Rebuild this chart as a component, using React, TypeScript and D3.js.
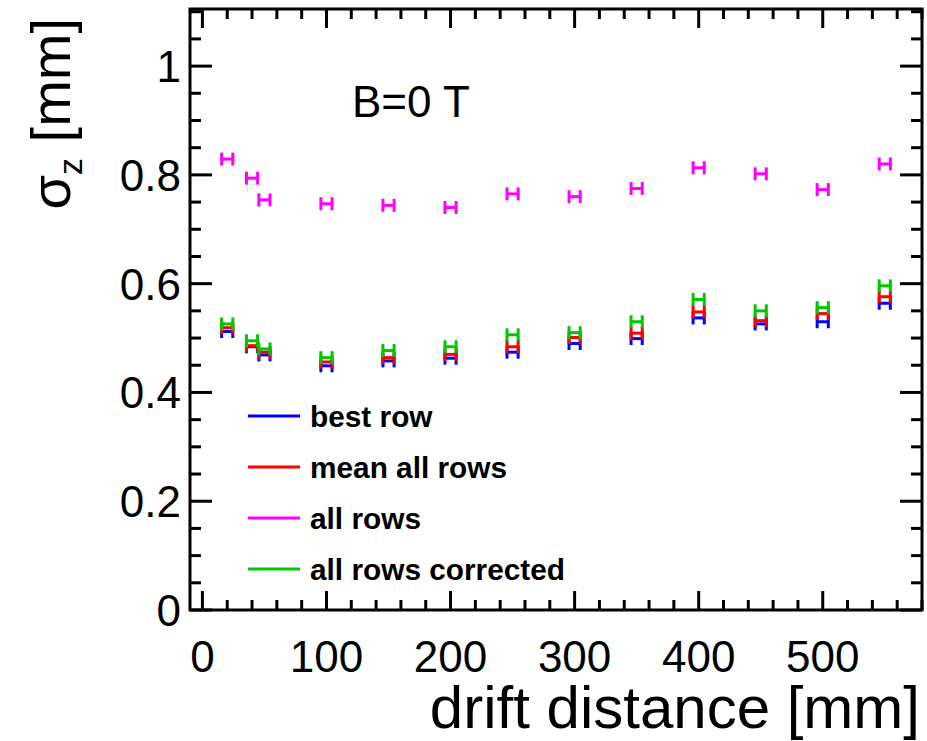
import React from "react";
import * as d3 from "d3";

const driftX = [20, 40, 50, 100, 150, 200, 250, 300, 350, 400, 450, 500, 550];
const xErr = [4.5, 4.5, 4.5, 4.5, 4.5, 4.5, 4.5, 4.5, 4.5, 4.5, 4.5, 4.5, 4.5];
const bestRow = [0.512, 0.484, 0.469, 0.449, 0.458, 0.463, 0.474, 0.490, 0.499, 0.537, 0.526, 0.530, 0.564];
const meanAllRows = [0.519, 0.486, 0.474, 0.456, 0.464, 0.470, 0.484, 0.501, 0.509, 0.548, 0.532, 0.545, 0.576];
const allRows = [0.829, 0.794, 0.754, 0.747, 0.744, 0.740, 0.765, 0.760, 0.775, 0.813, 0.802, 0.773, 0.820];
const allRowsCorrected = [0.526, 0.495, 0.480, 0.464, 0.477, 0.484, 0.506, 0.510, 0.530, 0.571, 0.550, 0.556, 0.596];

const xTickLabels = [0, 100, 200, 300, 400, 500];
const yTickLabels = [0, 0.2, 0.4, 0.6, 0.8, 1];

const seriesNames = ["best row", "mean all rows", "all rows", "all rows corrected"];
const seriesColors = ["#0000ff", "#ff0000", "#ff00ff", "#00c800"];
const seriesValues = [bestRow, meanAllRows, allRows, allRowsCorrected];

const W = 927;
const H = 741;
const L = 190, R = 922, T = 9, B = 610;

export default function App() {
  const x = d3.scaleLinear().domain([-10, 580]).range([L, R]);
  const y = d3.scaleLinear().domain([0, 1.105]).range([B, T]);

  const xMinor = d3.range(0, 581, 20);
  const yMinor = d3.range(0, 1.101, 0.05);
  const font = "'Liberation Sans', Arial, Helvetica, sans-serif";
  const capH = 6.5;

  return (
    <svg width={W} height={H} style={{ position: "absolute", left: 0, top: 0, background: "#fff" }} fontFamily={font}>
      <rect x={0} y={0} width={W} height={H} fill="#fff" />
      {/* ticks */}
      <g stroke="#000" strokeWidth={3}>
        {xMinor.map((v) => {
          const major = v % 100 === 0;
          const len = major ? 19 : 10;
          return (
            <g key={"xt" + v}>
              <line x1={x(v)} x2={x(v)} y1={B} y2={B - len} />
              <line x1={x(v)} x2={x(v)} y1={T} y2={T + len} />
            </g>
          );
        })}
        {yMinor.map((v, i) => {
          const major = i % 4 === 0;
          const len = major ? 22 : 11;
          return (
            <g key={"yt" + i}>
              <line x1={L} x2={L + len} y1={y(v)} y2={y(v)} />
              <line x1={R} x2={R - len} y1={y(v)} y2={y(v)} />
            </g>
          );
        })}
      </g>
      {/* frame */}
      <rect x={L} y={T} width={R - L} height={B - T} fill="none" stroke="#000" strokeWidth={3} />

      {/* tick labels */}
      {xTickLabels.map((v) => (
        <text key={"xl" + v} x={x(v)} y={672} fontSize={44} textAnchor="middle" fill="#000">
          {v}
        </text>
      ))}
      {yTickLabels.map((v) => (
        <text key={"yl" + v} x={181} y={y(v) + 16} fontSize={44} textAnchor="end" fill="#000">
          {v === 0 ? "0" : v === 1 ? "1" : v.toFixed(1)}
        </text>
      ))}

      {/* axis titles */}
      <text x={920} y={728} fontSize={60} textAnchor="end" fill="#000">
        drift distance [mm]
      </text>
      <text transform="translate(70,18) rotate(-90)" fontSize={56} textAnchor="end" fill="#000">
        <tspan>σ</tspan>
        <tspan fontSize={34} dy={12}>z</tspan>
        <tspan dy={-12}> [mm]</tspan>
      </text>

      <text x={352} y={117} fontSize={44} fill="#000">
        B=0 T
      </text>

      {/* data */}
      {[0, 1, 2, 3].map((s) => (
        <g key={"s" + s} stroke={seriesColors[s]} strokeWidth={3} fill="none">
          {driftX.map((xv, i) => {
            const cy = y(seriesValues[s][i]);
            const x0 = x(xv - xErr[i]);
            const x1 = x(xv + xErr[i]);
            return (
              <g key={i}>
                <line x1={x0} x2={x1} y1={cy} y2={cy} />
                <line x1={x0} x2={x0} y1={cy - capH} y2={cy + capH} />
                <line x1={x1} x2={x1} y1={cy - capH} y2={cy + capH} />
              </g>
            );
          })}
        </g>
      ))}

      {/* legend */}
      {seriesNames.map((name, i) => {
        const ly = 416 + i * 51;
        return (
          <g key={"lg" + i}>
            <line x1={248} x2={300} y1={ly} y2={ly} stroke={seriesColors[i]} strokeWidth={3} />
            <text x={310} y={ly + 11} fontSize={29.8} fontWeight="bold" fill="#000">
              {name}
            </text>
          </g>
        );
      })}
    </svg>
  );
}
